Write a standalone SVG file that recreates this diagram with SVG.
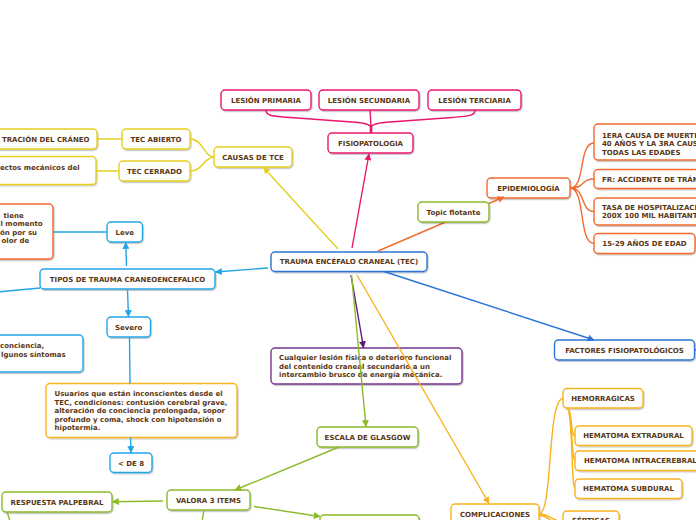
<svg xmlns="http://www.w3.org/2000/svg" width="696" height="520" viewBox="0 0 696 520">
<style>
text{font-family:"DejaVu Sans",Verdana,sans-serif;font-weight:bold;font-size:7px;fill:#5a3714}
.c{text-anchor:middle}
.n rect{fill:#fff;stroke-width:1.4;filter:url(#sh)}
.pk rect{stroke:#e8176e}.ye rect{stroke:#e6d01e}.or rect{stroke:#f26a2e}.gr rect{stroke:#8bbb2a}
.bl rect{stroke:#2b74d6}.lb rect{stroke:#22a5e6}.oy rect{stroke:#f9b31c}.pu rect{stroke:#7a3590}
#connectors path{fill:none;stroke-width:1.4}
</style>
<defs>
<filter id="sh" x="-10%" y="-20%" width="120%" height="150%"><feDropShadow dx="0.8" dy="1.2" stdDeviation="0.6" flood-color="#000" flood-opacity="0.25"/></filter>
<marker id="aPk" viewBox="0 0 10 10" refX="9" refY="5" markerWidth="7" markerHeight="7" markerUnits="userSpaceOnUse" orient="auto"><path d="M0,0 L10,5 L0,10 z" fill="#e8176e"/></marker>
<marker id="aYe" viewBox="0 0 10 10" refX="9" refY="5" markerWidth="7" markerHeight="7" markerUnits="userSpaceOnUse" orient="auto"><path d="M0,0 L10,5 L0,10 z" fill="#e6d01e"/></marker>
<marker id="aOr" viewBox="0 0 10 10" refX="9" refY="5" markerWidth="7" markerHeight="7" markerUnits="userSpaceOnUse" orient="auto"><path d="M0,0 L10,5 L0,10 z" fill="#f26a2e"/></marker>
<marker id="aGr" viewBox="0 0 10 10" refX="9" refY="5" markerWidth="7" markerHeight="7" markerUnits="userSpaceOnUse" orient="auto"><path d="M0,0 L10,5 L0,10 z" fill="#8bbb2a"/></marker>
<marker id="aBl" viewBox="0 0 10 10" refX="9" refY="5" markerWidth="7" markerHeight="7" markerUnits="userSpaceOnUse" orient="auto"><path d="M0,0 L10,5 L0,10 z" fill="#2b74d6"/></marker>
<marker id="aLb" viewBox="0 0 10 10" refX="9" refY="5" markerWidth="7" markerHeight="7" markerUnits="userSpaceOnUse" orient="auto"><path d="M0,0 L10,5 L0,10 z" fill="#22a5e6"/></marker>
<marker id="aOy" viewBox="0 0 10 10" refX="9" refY="5" markerWidth="7" markerHeight="7" markerUnits="userSpaceOnUse" orient="auto"><path d="M0,0 L10,5 L0,10 z" fill="#f9b31c"/></marker>
<marker id="aPu" viewBox="0 0 10 10" refX="9" refY="5" markerWidth="7" markerHeight="7" markerUnits="userSpaceOnUse" orient="auto"><path d="M0,0 L10,5 L0,10 z" fill="#5b1a79"/></marker>
</defs>
<rect width="696" height="520" fill="#fff"/>

<g id="nodes">
<g id="lesion-primaria" class="n pk"><rect x="221" y="90" width="90" height="20" rx="4"/><text class="c" x="266" y="102.5">LESIÓN PRIMARIA</text></g>
<g id="lesion-secundaria" class="n pk"><rect x="319" y="90" width="100" height="20" rx="4"/><text class="c" x="369" y="102.5">LESIÓN SECUNDARIA</text></g>
<g id="lesion-terciaria" class="n pk"><rect x="428" y="90" width="93" height="20" rx="4"/><text class="c" x="474.5" y="102.5">LESIÓN TERCIARIA</text></g>
<g id="fisiopatologia" class="n pk"><rect x="328" y="133" width="85" height="20" rx="4"/><text class="c" x="370.5" y="145.5">FISIOPATOLOGIA</text></g>
<g id="causas" class="n ye"><rect x="214" y="147" width="78" height="20" rx="4"/><text class="c" x="253" y="159.5">CAUSAS DE TCE</text></g>
<g id="tec-abierto" class="n ye"><rect x="122" y="129" width="68" height="20" rx="4"/><text class="c" x="156" y="141.5">TEC ABIERTO</text></g>
<g id="tec-cerrado" class="n ye"><rect x="119" y="161" width="71" height="20" rx="4"/><text class="c" x="154.5" y="173.5">TEC CERRADO</text></g>
<g id="penetracion" class="n ye"><rect x="-12" y="129" width="109" height="20" rx="4"/><text x="89.5" y="141.5" text-anchor="end">TRACIÓN DEL CRÁNEO</text></g>
<g id="efectos" class="n ye"><rect x="-12" y="156.5" width="108" height="28" rx="4"/><text x="0" y="169.5">ectos mecánicos del</text></g>
<g id="tec" class="n bl"><rect x="271" y="252" width="156" height="19.5" rx="4"/><text class="c" x="349" y="264.3">TRAUMA ENCÉFALO CRANEAL (TEC)</text></g>
<g id="epidemiologia" class="n or"><rect x="487" y="178" width="83" height="20" rx="4"/><text class="c" x="528.5" y="190.5">EPIDEMIOLOGÍA</text></g>
<g id="primera-causa" class="n or"><rect x="594" y="124" width="112" height="36" rx="4"/><text x="602" y="138">1ERA CAUSA DE MUERTE</text><text x="602" y="146.3">40 AÑOS Y LA 3RA CAUSA</text><text x="602" y="154.6">TODAS LAS EDADES</text></g>
<g id="fr" class="n or"><rect x="594" y="169.5" width="112" height="19" rx="4"/><text x="602" y="181.5">FR: ACCIDENTE DE TRÁNSITO</text></g>
<g id="tasa" class="n or"><rect x="594" y="198" width="112" height="27" rx="4"/><text x="602" y="210">TASA DE HOSPITALIZACIÓN</text><text x="602" y="218.3">200X 100 MIL HABITANTES</text></g>
<g id="edad" class="n or"><rect x="594" y="233.5" width="101" height="20" rx="4"/><text class="c" x="644.5" y="246">15-29 AÑOS DE EDAD</text></g>
<g id="tipos" class="n lb"><rect x="40" y="269" width="175" height="20" rx="4"/><text class="c" x="127.5" y="281.5">TIPOS DE TRAUMA CRANEOENCEFALICO</text></g>
<g id="leve" class="n lb"><rect x="107" y="222" width="35.5" height="20" rx="4"/><text class="c" x="124.7" y="234.5">Leve</text></g>
<g id="leve-desc" class="n or"><rect x="-12" y="204" width="65" height="55" rx="4"/><text x="3.5" y="217.5">tiene</text><text x="0.5" y="226">l momento</text><text x="0" y="234.7">ón por su</text><text x="1.5" y="243">olor de</text></g>
<g id="severo" class="n lb"><rect x="107" y="317" width="43.5" height="20" rx="4"/><text class="c" x="128.7" y="329.5">Severo</text></g>
<g id="moderado-desc" class="n lb"><rect x="-12" y="335" width="95" height="37" rx="4"/><text x="0" y="348">conciencia,</text><text x="1" y="357">lgunos síntomas</text></g>
<g id="severo-desc" class="n oy"><rect x="46" y="383.5" width="191" height="54" rx="4"/><text x="54.5" y="396">Usuarios que están inconscientes desde el</text><text x="54.5" y="404.5">TEC, condiciones:  contusión cerebral grave,</text><text x="54.5" y="413">alteración de conciencia prolongada, sopor</text><text x="54.5" y="421.5">profundo y coma, shock con hipotensión o</text><text x="54.5" y="430">hipotermia.</text></g>
<g id="menor-8" class="n lb"><rect x="110" y="453" width="42" height="19.5" rx="4"/><text class="c" x="131" y="465.5">&lt; DE 8</text></g>
<g id="definicion" class="n pu"><rect x="271" y="348" width="191" height="36" rx="4"/><text x="279" y="360.2">Cualquier lesión física o deterioro funcional</text><text x="279" y="368.8">del contenido craneal secundario a un</text><text x="279" y="377.3">intercambio brusco de energía mecánica.</text></g>
<g id="glasgow" class="n gr"><rect x="317" y="427" width="101" height="20" rx="4"/><text class="c" x="367.5" y="439.5">ESCALA DE GLASGOW</text></g>
<g id="valora" class="n gr"><rect x="167" y="490" width="83" height="20" rx="4"/><text class="c" x="208.5" y="502.5">VALORA 3 ITEMS</text></g>
<g id="palpebral" class="n gr"><rect x="2" y="492" width="110" height="20" rx="4"/><text class="c" x="57" y="504.5">RESPUESTA PALPEBRAL</text></g>
<g id="respuesta-2" class="n gr"><rect x="320" y="515" width="99" height="20" rx="4"/></g>
<g id="factores" class="n bl"><rect x="554.5" y="340" width="140" height="20" rx="4"/><text class="c" x="624.5" y="352.5">FACTORES FISIOPATOLÓGICOS</text></g>
<g id="complicaciones" class="n oy"><rect x="451" y="504" width="88" height="22" rx="4"/><text class="c" x="495" y="517">COMPLICACIONES</text></g>
<g id="hemorragicas" class="n oy"><rect x="563" y="388.5" width="80" height="19.5" rx="4"/><text class="c" x="603" y="400.8">HEMORRAGICAS</text></g>
<g id="extradural" class="n oy"><rect x="575" y="426" width="117" height="19.5" rx="4"/><text class="c" x="633.5" y="438.3">HEMATOMA EXTRADURAL</text></g>
<g id="intracerebral" class="n oy"><rect x="575" y="451" width="126" height="19.5" rx="4"/><text x="584" y="463.3">HEMATOMA INTRACEREBRAL</text></g>
<g id="subdural" class="n oy"><rect x="575" y="479" width="107" height="19.5" rx="4"/><text class="c" x="628.5" y="491.3">HEMATOMA SUBDURAL</text></g>
<g id="septicas" class="n oy"><rect x="563" y="511" width="56" height="20" rx="4"/><text class="c" x="591" y="523">SÉPTICAS</text></g>
</g>

<g id="connectors">
<path d="M266,110 C266,116 272,116 290,117.5 L352,122 Q369,123 371,127 M475,110 C475,116 469,116 452,117.5 L390,122 Q373,123 371,127 M370,110 L371,127" stroke="#e8176e"/>
<path d="M371,125 L371,133" stroke="#e8176e" style="stroke-width:2.6"/>
<path d="M352,248 L369,154" stroke="#e8176e" marker-end="url(#aPk)"/>
<path d="M338,249 L263.5,167.5" stroke="#e6d01e" marker-end="url(#aYe)"/>
<path d="M214,157 C204,157 203,139 190,139 M214,157 C204,157 203,171 190,171 M122,139 L97,139 M119,171 L96,171" stroke="#e6d01e"/>
<path d="M378,251 L504,197" stroke="#f26a2e" marker-end="url(#aOr)"/>
<path d="M570,188 C586,188 578,143 594,143 M570,188 C586,188 580,179 594,179 M570,188 C586,188 580,211.5 594,211.5 M570,188 C586,188 578,243.5 594,243.5" stroke="#f26a2e"/>
<path d="M268,268 L215.5,272" stroke="#22a5e6" marker-end="url(#aLb)"/>
<path d="M126.5,266 L125.7,242.5" stroke="#22a5e6" marker-end="url(#aLb)"/>
<path d="M127.5,290 L128.5,316.5" stroke="#22a5e6" marker-end="url(#aLb)"/>
<path d="M40,288 L-2,292 M107,232 L53,232 M129.5,337 L130,383.5" stroke="#22a5e6"/>
<path d="M130.5,437.5 L131,452.5" stroke="#22a5e6" marker-end="url(#aLb)"/>
<path d="M351,275 L363.5,347.5" stroke="#5b1a79" marker-end="url(#aPu)"/>
<path d="M351.5,275 L366,426.5" stroke="#8bbb2a" marker-end="url(#aGr)"/>
<path d="M357,275 L489,503.5" stroke="#f9b31c" marker-end="url(#aOy)"/>
<path d="M384,271.5 L594,340" stroke="#2b74d6" marker-end="url(#aBl)"/>
<path d="M694.5,350 L700,350" stroke="#2b74d6"/>
<path d="M339,447 L235,490" stroke="#8bbb2a" marker-end="url(#aGr)"/>
<path d="M163,501 L112.5,501.7" stroke="#8bbb2a" marker-end="url(#aGr)"/>
<path d="M254,506.5 L320,516.5" stroke="#8bbb2a" marker-end="url(#aGr)"/>
<path d="M204,510 L202,522 M7,512 Q9,517 10,522" stroke="#8bbb2a"/>
<path d="M539,514 C553,514 547,398.5 563,398.5 M539,514 C550,514 552,521 563,522 M539,515 C548,516 552,521 555,525 M567,408 C573,410 570,436 575,436 M567,408 C573,410 571,460.5 575,460.5 M567,408 C573,410 571,488.5 575,488.5" stroke="#f9b31c"/>
</g>

<g id="topic-flotante" class="n gr"><rect x="418" y="202" width="71" height="20" rx="4"/><text class="c" x="453.5" y="214.5">Topic flotante</text></g>
</svg>
